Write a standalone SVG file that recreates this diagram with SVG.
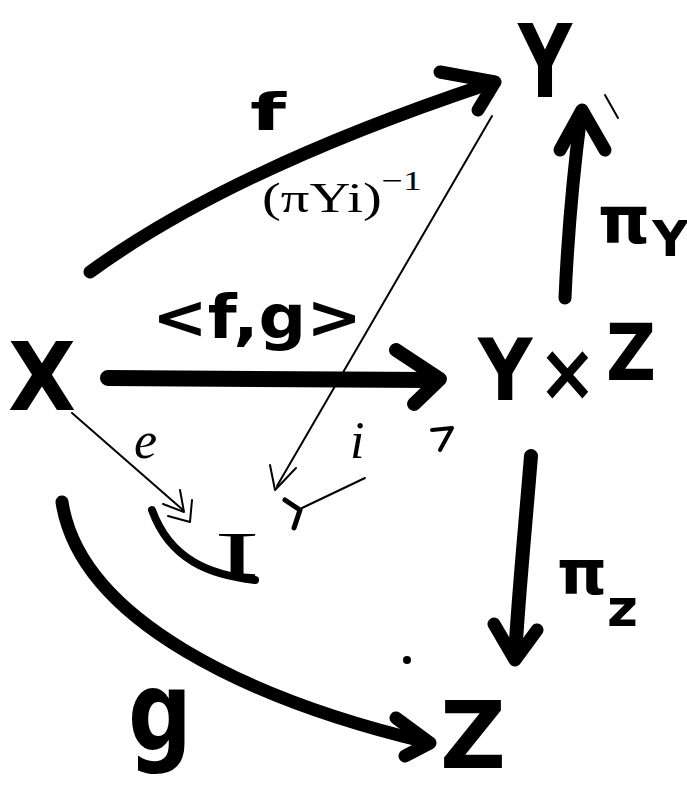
<svg xmlns="http://www.w3.org/2000/svg" width="687" height="790" viewBox="0 0 687 790">
<style>
.obj{font-family:"DejaVu Sans","Liberation Sans",sans-serif;font-weight:bold;fill:#000}
.lbl{font-family:"DejaVu Sans","Liberation Sans",sans-serif;font-weight:bold;fill:#000}
.thinlbl{font-family:"Liberation Serif","DejaVu Serif",serif;fill:#000}
.thick{fill:none;stroke:#000;stroke-linecap:round;stroke-linejoin:round}
.thin{fill:none;stroke:#000;stroke-width:2;stroke-linecap:round;stroke-linejoin:round}
</style>
<rect width="687" height="790" fill="#fff"/>
<g id="node-Y"><text class="obj" x="518" y="97" font-size="102" textLength="54" lengthAdjust="spacingAndGlyphs">Y</text></g>
<g id="node-X"><text class="obj" x="8" y="410" font-size="95" textLength="68" lengthAdjust="spacingAndGlyphs">X</text></g>
<g id="node-YxZ">
<text class="obj" x="478" y="400" font-size="85" textLength="178" lengthAdjust="spacingAndGlyphs">Y<tspan dx="6" font-size="80">×</tspan><tspan dx="10" dy="-20" font-size="78">Z</tspan></text>
</g>
<g id="node-Z"><text class="obj" x="440" y="768" font-size="92" textLength="66" lengthAdjust="spacingAndGlyphs">Z</text></g>
<g id="node-I"><text class="thinlbl" x="214" y="576" font-size="64" textLength="46" lengthAdjust="spacingAndGlyphs">I</text></g>
<g id="connectors">
<path class="thick" stroke-width="13" d="M90,272 Q230,170 488,84"/>
<path class="thick" stroke-width="13" d="M440,72 L495,82 L478,110"/>
<path class="thick" stroke-width="16" d="M108,378 L432,380"/>
<path class="thick" stroke-width="14" d="M396,350 L440,379 L414,404"/>
<path class="thick" stroke-width="13" d="M565,298 C568,230 575,160 581,114"/>
<path class="thick" stroke-width="13" d="M560,150 L582,110 L605,150"/>
<path class="thick" stroke-width="14" d="M531,456 C525,530 518,600 515,658"/>
<path class="thick" stroke-width="13" d="M494,624 L515,660 L537,630"/>
<path class="thick" stroke-width="13" d="M62,502 C80,620 250,700 426,742"/>
<path class="thick" stroke-width="13" d="M396,718 L430,743 L405,756"/>
<path class="thin" d="M492,116 L277,486"/>
<path class="thin" stroke-width="3" d="M270,465 L275,490 L296,468"/>
<path class="thin" d="M72,413 L183,510"/>
<path class="thin" stroke-width="3" d="M180,490 L184,512 L163,504 M192,500 L190,522 L168,516"/>
<path class="thick" stroke-width="8" d="M152,510 C170,560 210,575 255,580"/>
<path class="thin" d="M365,478 L302,508"/>
<path class="thick" stroke-width="5" d="M285,500 L300,510 L294,528"/>
<path class="thick" stroke-width="4" d="M432,430 L452,428 L440,450"/>
</g>
<g id="labels">
<text class="lbl" x="250" y="130" font-size="52" textLength="36" lengthAdjust="spacingAndGlyphs">f</text>
<text class="lbl" x="152" y="338" font-size="60" textLength="210" lengthAdjust="spacingAndGlyphs">&lt;f,g&gt;</text>
<text class="lbl" x="598" y="243" font-size="66">π<tspan dx="2" dy="13" font-size="50">Y</tspan></text>
<text class="lbl" x="557" y="594" font-size="62" textLength="81" lengthAdjust="spacingAndGlyphs">π<tspan dy="32" font-size="52">z</tspan></text>
<text class="thinlbl" x="262" y="212" font-size="42" textLength="160" lengthAdjust="spacingAndGlyphs">(πYi)<tspan font-size="28" dy="-22">−1</tspan></text>
<text class="thinlbl" x="134" y="458" font-size="52" font-style="italic">e</text>
<text class="thinlbl" x="350" y="458" font-size="52" font-style="italic">i</text>
<text class="lbl" x="128" y="750" font-size="110" textLength="64" lengthAdjust="spacingAndGlyphs">g</text>
</g>
<circle cx="407" cy="660" r="4" fill="#000"/>
<path class="thin" d="M605,95 L618,118"/>
</svg>
